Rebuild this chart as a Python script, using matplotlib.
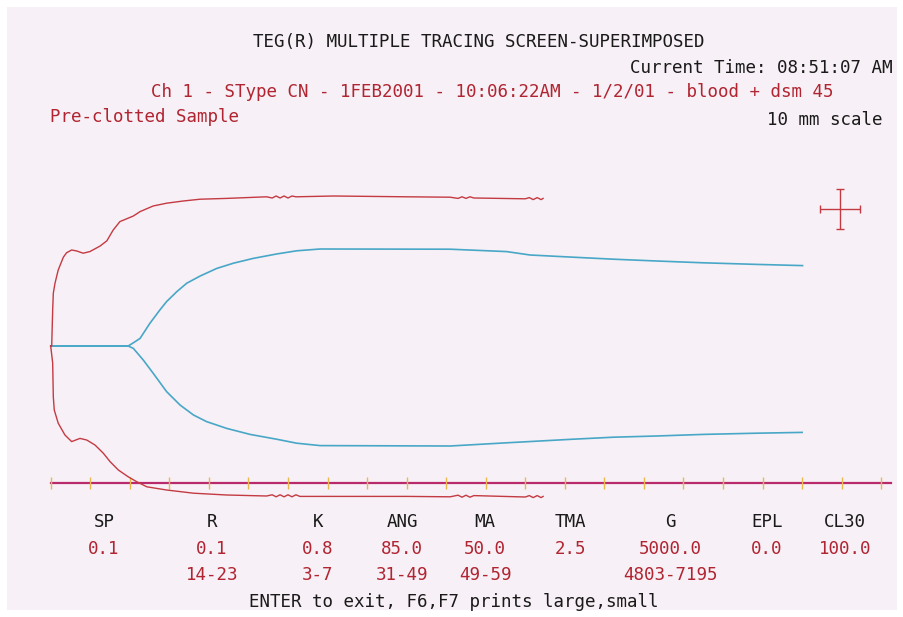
import numpy as np
import matplotlib
matplotlib.use("Agg")
import matplotlib.pyplot as plt
from matplotlib.patches import Rectangle

# --- Trace data (time in grid ticks, amplitude in mm, centre line = 0) ---
red_top_t = [0.0, 0.025, 0.05, 0.066, 0.109, 0.19, 0.32, 0.40, 0.53, 0.66, 0.82, 0.99,
             1.25, 1.42, 1.58, 1.75, 2.09, 2.26, 2.59, 2.93, 3.35, 3.78, 4.45, 5.46,
             5.6, 5.7, 5.8, 5.9, 6.0, 6.1, 6.2, 7.15, 9.0, 10.1, 10.3, 10.4, 10.5, 10.6,
             10.7, 12.0, 12.1, 12.2, 12.3, 12.4, 12.45]
red_top_mm = [0.0, 0.0, 9.0, 13.2, 15.7, 19.0, 22.2, 23.3, 24.0, 23.75, 23.2, 23.6,
              25.0, 26.3, 29.0, 31.1, 32.5, 33.6, 35.0, 35.7, 36.25, 36.7, 36.9, 37.3,
              37.0, 37.5, 37.0, 37.5, 37.0, 37.5, 37.3, 37.5, 37.3, 37.2, 36.9, 37.3, 36.9,
              37.3, 37.0, 36.8, 37.1, 36.6, 37.1, 36.6, 36.9]

red_bot_t = [0.0, 0.05, 0.066, 0.09, 0.19, 0.36, 0.53, 0.74, 0.91, 1.12, 1.33, 1.50,
             1.71, 1.96, 2.17, 2.43, 2.93, 3.61, 4.45, 5.46, 5.6, 5.7, 5.8, 5.9, 6.0,
             6.1, 6.2, 6.3, 9.0, 10.1, 10.3, 10.4, 10.5, 10.6, 10.7, 12.0, 12.1, 12.2,
             12.3, 12.4, 12.45]
red_bot_mm = [0.0, -4.25, -12.7, -16.0, -19.3, -22.25, -23.9, -23.1, -23.5, -24.75, -26.8,
              -28.9, -31.0, -32.7, -33.9, -35.2, -36.0, -36.8, -37.25, -37.5, -37.2,
              -37.7, -37.2, -37.7, -37.2, -37.7, -37.2, -37.6, -37.6, -37.7, -37.3,
              -37.8, -37.3, -37.8, -37.4, -37.75, -37.4, -37.9, -37.4, -37.9, -37.6]

blue_top_t = [0.0, 1.96, 2.09, 2.26, 2.51, 2.76, 2.93, 3.19, 3.44, 3.78, 4.20, 4.62,
              5.12, 5.71, 6.22, 6.81, 10.1, 11.53, 12.12, 13.21, 14.23, 15.32, 16.5,
              17.85, 19.01]
blue_top_mm = [0.0, 0.0, 0.8, 1.9, 5.7, 9.0, 11.1, 13.6, 15.7, 17.5, 19.4, 20.7,
               21.9, 23.0, 23.8, 24.25, 24.2, 23.6, 22.75, 22.2, 21.7, 21.25, 20.8,
               20.4, 20.1]

blue_bot_t = [0.0, 1.96, 2.09, 2.34, 2.59, 2.93, 3.27, 3.61, 3.94, 4.45, 5.04, 5.71,
              6.22, 6.81, 10.1, 11.53, 13.21, 14.23, 15.32, 16.5, 17.85, 19.0]
blue_bot_mm = [0.0, 0.0, -0.6, -3.5, -6.8, -11.4, -14.75, -17.25, -18.9, -20.6, -22.1,
               -23.3, -24.3, -24.9, -25.0, -24.2, -23.3, -22.8, -22.5, -22.1, -21.8,
               -21.6]

# --- Result table ---
param_names = ["SP", "R", "K", "ANG", "MA", "TMA", "G", "EPL", "CL30"]
param_values = ["0.1", "0.1", "0.8", "85.0", "50.0", "2.5", "5000.0", "0.0", "100.0"]
param_ranges = ["", "14-23", "3-7", "31-49", "49-59", "", "4803-7195", "", ""]

n_ticks = 22
baseline_mm = -34.25
scale_mm = 10

# --- Colours / fonts ---
RED_TXT = "#b02531"
RED_LINE = "#c43a42"
BLUE_LINE = "#48a7c7"
BASE_COL = "#b92a6c"
TICK_COL = "#e9b94e"
BG = "#f7f0f6"
MONO = "DejaVu Sans Mono"
FS = 12.6

W, H = 904, 617
fig = plt.figure(figsize=(W / 100, H / 100), dpi=100)
fig.patch.set_facecolor("white")
fig.patches.append(Rectangle((7 / W, 7 / H), (W - 14) / W, (H - 14) / H,
                             transform=fig.transFigure, facecolor=BG,
                             edgecolor="none", zorder=-10))

ax = fig.add_axes([0, 0, 1, 1])
ax.set_facecolor("none")
ax.axis("off")
# pixel mapping: x_px = 50.7 + 39.55*t, y_px = 346 - 4*mm
ax.set_xlim(-50.7 / 39.55, (W - 50.7) / 39.55)
ax.set_ylim((346 - H) / 4, 346 / 4)

# baseline with ticks
ax.plot([0, 21.25], [baseline_mm, baseline_mm], color=BASE_COL, lw=1.6, zorder=2)
ax.vlines(np.arange(n_ticks), baseline_mm - 1.5, baseline_mm + 1.5,
          color=TICK_COL, lw=1.0, zorder=3)

# traces
ax.plot(blue_top_t, blue_top_mm, color=BLUE_LINE, lw=1.2, zorder=4)
ax.plot(blue_bot_t, blue_bot_mm, color=BLUE_LINE, lw=1.2, zorder=4)
ax.plot(red_top_t, red_top_mm, color=RED_LINE, lw=1.0, zorder=5)
ax.plot(red_bot_t, red_bot_mm, color=RED_LINE, lw=1.0, zorder=5)

# 10 mm scale cross
ax.errorbar([19.96], [34.2], xerr=[scale_mm * 4 / 2 / 39.55], yerr=[scale_mm / 2],
            fmt="none", ecolor=RED_LINE, elinewidth=1.0, capsize=3, capthick=1.0)


def txt(x, y, s, color="#1a1a1a", ha="left"):
    fig.text(x / W, 1 - y / H, s, color=color, ha=ha, va="center",
             family=MONO, fontsize=FS)


# header
txt(479, 42, "TEG(R) MULTIPLE TRACING SCREEN-SUPERIMPOSED", ha="center")
txt(893, 68, "Current Time: 08:51:07 AM", ha="right")
txt(492, 92, "Ch 1 - SType CN - 1FEB2001 - 10:06:22AM - 1/2/01 - blood + dsm 45",
    color=RED_TXT, ha="center")
txt(50, 117, "Pre-clotted Sample", color=RED_TXT)
txt(883, 120, "10 mm scale", ha="right")

# result table
col_x = [104, 212, 318, 402, 485, 570, 670, 767, 845]
for cx, name, val, rng in zip(col_x, param_names, param_values, param_ranges):
    txt(cx, 522, name, ha="center")
    txt(cx, 549, val, color=RED_TXT, ha="center")
    if rng:
        txt(cx, 575, rng, color=RED_TXT, ha="center")

txt(454, 602, "ENTER to exit, F6,F7 prints large,small", ha="center")

fig.savefig("out.png", dpi=100, facecolor=fig.get_facecolor())
